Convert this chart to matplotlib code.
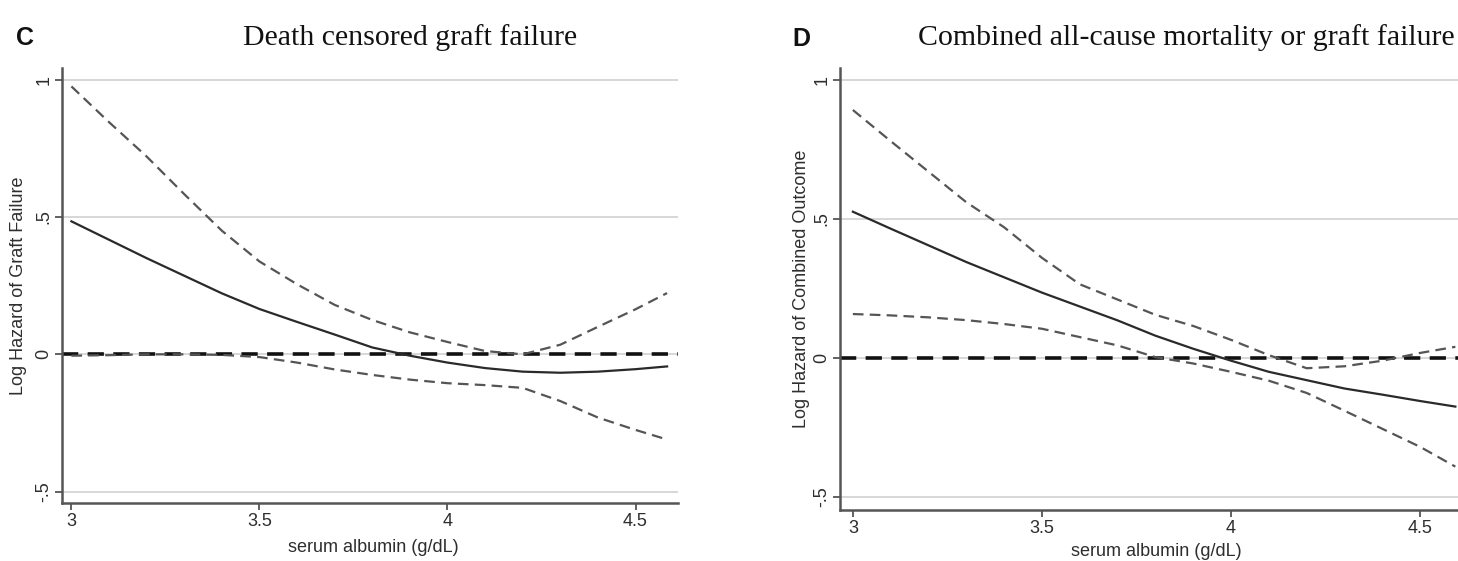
import matplotlib
matplotlib.use("Agg")
import matplotlib.pyplot as plt

# ---------------- data ----------------
albumin_c = [3.0, 3.1, 3.2, 3.3, 3.4, 3.5, 3.6, 3.7, 3.8, 3.9, 4.0, 4.1, 4.2, 4.3, 4.4, 4.5, 4.584]
c_est = [0.484, 0.417, 0.350, 0.286, 0.222, 0.165, 0.118, 0.072, 0.025, -0.005, -0.030, -0.050,
         -0.063, -0.067, -0.063, -0.054, -0.044]
c_upper = [0.975, 0.845, 0.720, 0.583, 0.450, 0.338, 0.255, 0.180, 0.125, 0.080, 0.045, 0.012,
           0.000, 0.035, 0.100, 0.164, 0.223]
c_lower = [-0.005, -0.003, 0.000, 0.000, -0.002, -0.010, -0.030, -0.055, -0.075, -0.092, -0.105,
           -0.112, -0.122, -0.170, -0.230, -0.275, -0.310]

albumin_d = [3.0, 3.1, 3.2, 3.3, 3.4, 3.5, 3.6, 3.7, 3.8, 3.9, 4.0, 4.1, 4.2, 4.3, 4.4, 4.5, 4.593]
d_est = [0.526, 0.465, 0.405, 0.345, 0.290, 0.235, 0.185, 0.135, 0.080, 0.033, -0.010, -0.050,
         -0.080, -0.110, -0.132, -0.155, -0.175]
d_upper = [0.892, 0.780, 0.670, 0.560, 0.470, 0.360, 0.265, 0.210, 0.155, 0.115, 0.065, 0.010,
           -0.037, -0.030, -0.010, 0.018, 0.040]
d_lower = [0.158, 0.153, 0.146, 0.136, 0.122, 0.105, 0.075, 0.045, 0.003, -0.020, -0.050, -0.082,
           -0.126, -0.190, -0.255, -0.320, -0.391]

x_ticks = [3, 3.5, 4, 4.5]
x_tick_labels = ["3", "3.5", "4", "4.5"]
y_ticks = [-0.5, 0, 0.5, 1]
y_tick_labels = ["-.5", "0", ".5", "1"]

panel_letters = ["C", "D"]
titles = ["Death censored graft failure", "Combined all-cause mortality or graft failure"]
y_labels = ["Log Hazard of Graft Failure", "Log Hazard of Combined Outcome"]
x_label = "serum albumin (g/dL)"
ref_value = 0.0

# ---------------- figure ----------------
W, H = 1458, 561
fig = plt.figure(figsize=(W / 100, H / 100), dpi=100)
fig.patch.set_facecolor("white")

def fx(px):
    return px / W

def fy(py):
    return 1 - py / H

# axes rectangles in pixels: left, top, right, bottom
rects = [(62, 68, 678, 503), (840, 68, 1458, 510)]
xlims = [(2.975, 4.613), (2.966, 4.600)]
ylims = [(-0.541, 1.042), (-0.547, 1.043)]
data = [(albumin_c, c_est, c_upper, c_lower), (albumin_d, d_est, d_upper, d_lower)]
letter_pos = [(25, 38), (801, 39)]
title_pos = [(410, 45), (1186, 45)]
ylabel_x = [19, 802]
xlabel_pos = [(373, 548), (1156, 551)]

sans = ["Liberation Sans", "DejaVu Sans"]
serif = ["Liberation Serif", "DejaVu Serif"]
axis_col = "#555555"
grid_col = "#d4d4d4"
text_col = "#2e2e2e"

for i in range(2):
    l, t, r, b = rects[i]
    ax = fig.add_axes([fx(l), fy(b), fx(r) - fx(l), fy(t) - fy(b)])
    xs, est, up, lo = data[i]
    for yv in y_ticks:
        ax.axhline(yv, color=grid_col, lw=1.3, zorder=0)
    ax.axhline(ref_value, color="#111111", lw=2.6, dashes=(4.5, 2.6), zorder=2)
    ax.plot(xs, up, color="#555555", lw=1.6, dashes=(4.8, 2.8), zorder=3)
    ax.plot(xs, lo, color="#555555", lw=1.6, dashes=(4.8, 2.8), zorder=3)
    ax.plot(xs, est, color="#2a2a2a", lw=1.6, zorder=4)

    ax.set_xlim(*xlims[i])
    ax.set_ylim(*ylims[i])
    ax.set_xticks(x_ticks)
    ax.set_xticklabels(x_tick_labels, family=sans, fontsize=13, color=text_col)
    ax.set_yticks(y_ticks)
    ax.set_yticklabels(y_tick_labels, family=sans, fontsize=13, color=text_col,
                       rotation=90, va="center")
    ax.tick_params(axis="both", direction="out", length=5, width=1.3, color=axis_col, pad=2)
    for s in ["top", "right"]:
        ax.spines[s].set_visible(False)
    for s in ["left", "bottom"]:
        ax.spines[s].set_color(axis_col)
        ax.spines[s].set_linewidth(1.8)
    ax.set_facecolor("white")

    fig.text(fx(xlabel_pos[i][0]), fy(xlabel_pos[i][1]), x_label, family=sans, fontsize=13,
             color=text_col, ha="center", va="center")
    fig.text(fx(ylabel_x[i]), fy((t + b) / 2), y_labels[i], rotation=90, family=sans,
             fontsize=13, color=text_col, ha="center", va="center")
    fig.text(fx(letter_pos[i][0]), fy(letter_pos[i][1]), panel_letters[i], family=sans,
             fontsize=18, fontweight="bold", color="#111111", ha="center", va="center")
    fig.text(fx(title_pos[i][0]), fy(title_pos[i][1]), titles[i], family=serif,
             fontsize=21.5, color="#111111", ha="center", va="baseline")

fig.savefig("out.png", dpi=100, facecolor="white")
